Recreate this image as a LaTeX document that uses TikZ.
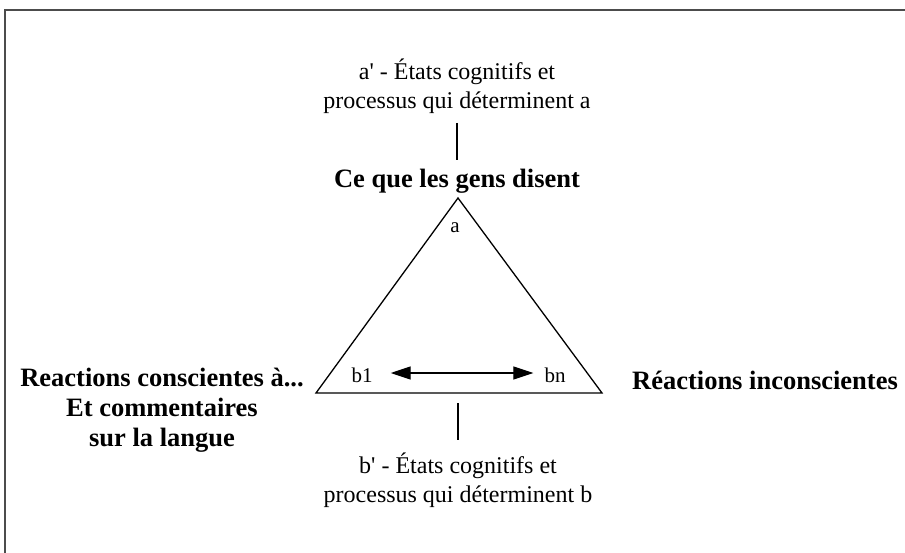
\documentclass[tikz,border=0pt]{standalone}
\usepackage{fontspec}
\setmainfont{Liberation Serif}[Ligatures=TeXOff]
\usetikzlibrary{arrows.meta}
\begin{document}
\begin{tikzpicture}[x=1pt,y=-1pt,
  txt/.style={font=\fontsize{24}{29}\selectfont, align=center, inner sep=0pt},
  btxt/.style={font=\fontsize{26.5}{30}\selectfont\bfseries, align=center, inner sep=0pt},
  lbl/.style={font=\fontsize{21}{22}\selectfont, inner sep=0pt},
  frame/.style={line width=1.8pt, draw=black!70}]
\useasboundingbox (0,0) rectangle (905,553);
\draw[frame] (5,553) -- (5,10) -- (905,10);
% triangle
\coordinate (apex) at (458,198);
\coordinate (bl) at (316,393);
\coordinate (br) at (602,393);
\draw[line width=1.3pt, line join=miter] (apex) -- (bl) -- (br) -- cycle;
\node[lbl] (a) at (455,228) {a};
\node[lbl] (b1) at (362,375) {b1};
\node[lbl] (bn) at (555,375) {bn};
\draw[line width=1.3pt, {Triangle[length=20pt,width=13pt]}-{Triangle[length=20pt,width=13pt]}]
  ([xshift=18pt,yshift=2pt]b1.east) -- ([xshift=-11pt,yshift=2pt]bn.west);
% top texts
\node[txt] (aprime) at (457,86) {a' - États cognitifs et\\processus qui déterminent a};
\node[btxt] (say) at (457,181) {Ce que les gens disent};
\draw[line width=2pt] (457,123) coordinate (t1) -- (457,160) coordinate (t2);
% bottom
\draw[line width=2pt] (458,403) coordinate (u1) -- (458,440) coordinate (u2);
\node[txt] (bprime) at (458,480) {b' - États cognitifs et\\processus qui déterminent b};
% sides
\node[btxt] (left) at (162,410) {Reactions conscientes à...\\Et commentaires\\sur la langue};
\node[btxt] (right) at (765,380) {Réactions inconscientes};
\end{tikzpicture}
\end{document}
